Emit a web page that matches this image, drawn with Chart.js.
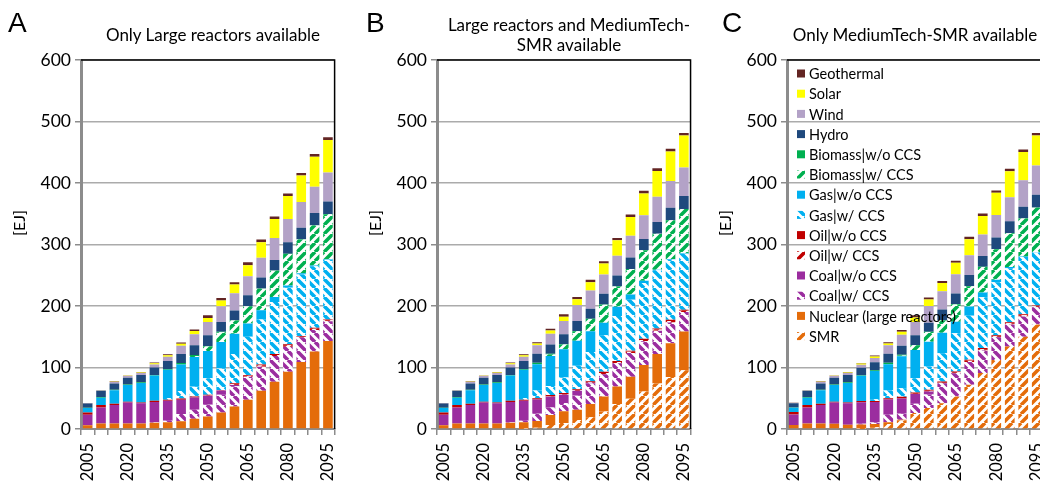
<!DOCTYPE html>
<html>
<head>
<meta charset="utf-8">
<script src="https://cdn.jsdelivr.net/npm/chart.js@4.4.1/dist/chart.umd.min.js"></script>
<style>
  html, body { margin: 0; padding: 0; background: #fff; }
  body { width: 1040px; height: 482px; position: relative; overflow: hidden; font-family: Lato, sans-serif; color: #000; }
  canvas { position: absolute; top: 0; }
  .letter { position: absolute; top: 9px; font: 28px/28px 'Liberation Sans', Arial, sans-serif; }
  .title { position: absolute; width: 320px; font-size: 17px; line-height: 20px; text-align: center; white-space: nowrap; }
  .unit { position: absolute; width: 50px; height: 20px; font-size: 16px; line-height: 20px; text-align: center; transform: rotate(-90deg); }
</style>
</head>
<body>
<canvas id="panelA" width="356" height="482" style="left:0px"></canvas>
<canvas id="panelB" width="356" height="482" style="left:356px"></canvas>
<canvas id="panelC" width="360" height="482" style="left:706px"></canvas>

<div class="letter" style="left:8px">A</div>
<div class="letter" style="left:366px">B</div>
<div class="letter" style="left:722px">C</div>

<div class="title" style="left:53px; top:25px">Only Large reactors available</div>
<div class="title" style="left:409px; top:15px">Large reactors and MediumTech-<br>SMR available</div>
<div class="title" style="left:755px; top:25px">Only MediumTech-SMR available</div>

<div class="unit" style="left:-6px; top:213px">[EJ]</div>
<div class="unit" style="left:350px; top:213px">[EJ]</div>
<div class="unit" style="left:700px; top:213px">[EJ]</div>

<script>
const years = ['2005', '2010', '2015', '2020', '2025', '2030', '2035', '2040', '2045', '2050',
  '2055', '2060', '2065', '2070', '2075', '2080', '2085', '2090', '2095'];
const tickEvery = 3;
const yTicks = [0, 100, 200, 300, 400, 500, 600];

// stacking order, bottom to top
const seriesNames = ['SMR', 'Nuclear (large reactors)', 'Coal|w/ CCS', 'Coal|w/o CCS', 'Oil|w/ CCS', 'Oil|w/o CCS',
  'Gas|w/ CCS', 'Gas|w/o CCS', 'Biomass|w/ CCS', 'Biomass|w/o CCS', 'Hydro', 'Wind', 'Solar', 'Geothermal'];

// A: only large reactors
const A_smr = [0, 0, 0, 0, 0, 0, 0, 0, 0, 0, 0, 0, 0, 0, 0, 0, 0, 0, 0];
const A_nuclear = [6, 9, 9, 9, 9, 10, 11, 12.5, 16.7, 20.5, 27, 36.7, 47.4, 62, 77, 93, 109, 126, 143];
const A_coalCcs = [0, 0, 0, 0, 0, 1, 2.5, 12, 14.5, 18.9, 28.5, 33, 37.6, 39.3, 41.6, 40.7, 39.6, 35, 32.4];
const A_coal = [17, 26, 30, 34, 33, 33, 32.5, 23, 20, 14.6, 7, 2, 0, 0, 0, 0, 0, 0, 0];
const A_oilCcs = [0, 0, 0, 0, 0, 0, 0, 0, 0, 0.5, 0.5, 1, 1.5, 2, 1.8, 2.3, 1.5, 2.2, 1.5];
const A_oil = [4, 4, 2, 1.5, 1, 2, 1.5, 2, 1.5, 1, 0.5, 1.7, 1.5, 1.7, 1.4, 2, 1, 1.6, 1.2];
const A_gasCcs = [0, 0, 0, 0, 0, 0, 3, 12.4, 16, 27, 35, 47.4, 62, 73, 84.7, 91.6, 100, 100, 97];
const A_gas = [7, 12, 22, 27, 32, 41, 46, 43, 48.5, 44.5, 43, 33, 21.4, 15, 8, 3.8, 2, 1, 1];
const A_bioCcs = [0, 0, 0, 0, 0, 0, 0, 0, 1.5, 7, 16, 21.5, 28, 35, 43, 51.2, 55, 65, 73];
const A_bio = [0.5, 1, 1, 1, 1, 1, 1, 2.5, 1.5, 1, 0.5, 0.5, 0.5, 0.3, 0.3, 0.3, 0.3, 0.3, 0.3];
const A_hydro = [7, 10, 10, 11, 12, 12, 13, 14.6, 16, 17.5, 16, 16, 17.5, 18, 17.2, 18.9, 19, 20, 20.5];
const A_wind = [0.3, 1, 2.5, 2.5, 3, 5, 7, 13.5, 18, 21.5, 25.5, 28, 31, 32, 35.6, 37.5, 41.6, 43, 47];
const A_solar = [0, 0.3, 0.5, 0.5, 1, 2, 2.5, 3, 5, 6.6, 9.5, 14, 18, 25.5, 30.7, 37.4, 43, 48.6, 53];
const A_geo = [0.3, 0.3, 0.5, 0.5, 0.5, 1, 1.5, 2.2, 2.7, 4.4, 4, 4, 4.6, 4.5, 4.3, 4.3, 4.3, 4.3, 4.5];

// B: large reactors and MediumTech-SMR
const B_smr = [0, 0, 0, 0, 0, 0, 0.5, 2, 6.5, 9.7, 14.6, 19, 28.6, 40.5, 49, 61, 73.8, 84.7, 95.6];
const B_nuclear = [6, 9, 9, 9, 9, 10, 10.5, 11, 16.2, 19, 16.8, 21.6, 24.3, 28.6, 36, 43, 48, 54.6, 62.8];
const B_coalCcs = [0, 0, 0, 0, 0, 1, 2.5, 12, 12.4, 13.5, 22.7, 33.5, 36.2, 37.8, 38.5, 38.8, 38, 33.9, 31.7];
const B_coal = [17, 26, 30, 34, 33, 33, 32.5, 23, 17.3, 13.5, 8, 1, 0, 0, 0, 0, 0, 0, 0];
const B_oilCcs = [0, 0, 0, 0, 0, 0, 0, 0, 0.5, 1, 1.2, 1.2, 2, 2, 2, 2, 2, 2.4, 2];
const B_oil = [4, 4, 2, 1.5, 1, 2, 1.5, 2, 2.2, 1.7, 1.5, 1.5, 1.8, 1.8, 1.8, 1.8, 1.8, 2, 1.8];
const B_gasCcs = [0, 0, 0, 0, 0, 0, 3, 12.4, 15, 25.4, 38, 47.5, 59.5, 73, 83, 90.7, 94.5, 98, 91];
const B_gas = [7, 12, 22, 27, 32, 41, 46, 43, 48.6, 46, 40.5, 33.5, 20.5, 15, 8.2, 3.8, 1, 1, 1];
const B_bioCcs = [0, 0, 0, 0, 0, 0, 0, 0, 2.5, 7.5, 15.7, 20, 29.2, 33.2, 41.5, 49.7, 58.2, 62.7, 71.7];
const B_bio = [0.5, 1, 1, 1, 1, 1, 1, 2.5, 1.3, 0.6, 0.5, 0.5, 0.5, 0.3, 0.3, 0.3, 0.3, 0.3, 0.3];
const B_hydro = [7, 10, 10, 11, 12, 12, 13, 14.6, 15, 16.2, 16.2, 16.2, 17.3, 17.3, 18.5, 18, 19, 20, 20.8];
const B_wind = [0.3, 1, 2.5, 2.5, 3, 5, 7, 13.5, 17.3, 21.6, 25.4, 29.7, 31.4, 32.4, 35.3, 38.3, 41, 43.7, 46.4];
const B_solar = [0, 0.3, 0.5, 0.5, 1, 2, 2.5, 3, 5.4, 7, 9.7, 13.5, 17.8, 25, 30.6, 35.5, 42, 48, 52];
const B_geo = [0.3, 0.3, 0.5, 0.5, 0.5, 1, 1.5, 2.2, 2.7, 3.8, 3.8, 3.8, 3.8, 3.8, 4, 4.4, 4.4, 4.4, 4.4];

// C: only MediumTech-SMR
const C_smr = [0, 0, 0, 0, 0, 0.5, 3, 8, 14, 26, 34, 42, 53, 72, 91, 112, 134, 150, 170];
const C_nuclear = [6.5, 9, 9, 8.5, 7, 7, 5, 3, 1, 0, 0, 0, 0, 0, 0, 0, 0, 0, 0];
const C_coalCcs = [0, 0, 0, 0, 0, 1, 2.5, 12, 10, 15, 22, 32.4, 37.8, 36.8, 36.8, 37, 36, 33, 28];
const C_coal = [17, 26, 30, 34.5, 35, 35, 33.5, 25, 24.7, 15.8, 5, 0, 0, 0, 0, 0, 0, 0, 0];
const C_oilCcs = [0, 0, 0, 0, 0, 0, 0, 0, 0, 0.7, 1, 1, 1.5, 2, 2, 2, 2, 2, 1.5];
const C_oil = [4, 4, 2, 1.5, 1, 2, 1.5, 2, 2.7, 2, 1.7, 1.7, 1.2, 1.8, 1.8, 1.5, 1.5, 1.5, 1.5];
const C_gasCcs = [0, 0, 0, 0, 0, 0, 3, 12.4, 13.7, 23, 37.8, 46, 62, 71.4, 82.7, 86, 88, 93, 86];
const C_gas = [7, 12, 22, 27, 32, 41, 46, 43, 52, 46, 40.5, 33.5, 19, 15, 7.6, 4, 2, 1, 1];
const C_bioCcs = [0, 0, 0, 0, 0, 0, 0, 0, 1.5, 7.5, 15.7, 20, 28.1, 33.2, 41.7, 49.7, 54.7, 61.7, 71.7];
const C_bio = [0.5, 1, 1, 1, 1, 1, 1, 2.5, 1.2, 0.5, 0.5, 0.5, 0.5, 0.3, 0.3, 0.3, 0.3, 0.3, 0.3];
const C_hydro = [7, 10, 10, 11, 12, 12, 13, 14.6, 14.6, 16, 14.6, 17.3, 17.3, 17.8, 17.3, 19, 19.5, 19, 21];
const C_wind = [0.3, 1, 2.5, 2.5, 3, 5, 7, 13.5, 17.8, 21.6, 27, 29.7, 31.4, 32.4, 35, 36.5, 39, 43, 47.6];
const C_solar = [0, 0.3, 0.5, 0.5, 1, 2, 2.5, 3, 4.9, 7, 10.8, 13.5, 18.4, 26, 30.3, 36, 42, 46, 48.6];
const C_geo = [0.3, 0.3, 0.5, 0.5, 0.5, 1, 1.5, 2.2, 2.7, 3.8, 3.2, 3.2, 3.2, 3.8, 3.8, 4, 4, 4, 4.3];

// striped fill for the "w/ CCS" and SMR parts
function hatch(color, dir) {
  const s = 9;
  const c = document.createElement('canvas');
  c.width = s; c.height = s;
  const g = c.getContext('2d');
  g.fillStyle = '#fff';
  g.fillRect(0, 0, s, s);
  g.strokeStyle = color;
  g.lineWidth = 3.6;
  g.beginPath();
  for (const k of [-s, 0, s]) {
    if (dir === '/') { g.moveTo(k, s); g.lineTo(k + s, 0); }
    else { g.moveTo(k, 0); g.lineTo(k + s, s); }
  }
  g.stroke();
  return g.createPattern(c, 'repeat');
}

const orange = '#e46c0a', purple = '#9b2d9f', red = '#c00000', blue = '#00b0f0', green = '#00b050';
const fills = [
  hatch(orange, '/'), orange,
  hatch(purple, '\\'), purple,
  hatch(red, '/'), red,
  hatch(blue, '\\'), blue,
  hatch(green, '/'), green,
  '#1f497d', '#b3a2c7', '#ffff00', '#632523'
];

// black top and right edges of the plot
const frame = {
  id: 'frame',
  afterDatasetsDraw(chart) {
    const { ctx, chartArea: a } = chart;
    ctx.save();
    ctx.strokeStyle = '#000';
    ctx.lineWidth = 1.5;
    ctx.beginPath();
    ctx.moveTo(a.left, a.top);
    ctx.lineTo(a.right, a.top);
    ctx.lineTo(a.right, a.bottom);
    ctx.stroke();
    ctx.restore();
  }
};

// legend drawn inside the plot, over the bars
const areaLegend = {
  id: 'areaLegend',
  afterDatasetsDraw(chart, args, opts) {
    if (!opts.display) return;
    const { ctx, chartArea: a } = chart;
    ctx.save();
    ctx.font = '14.5px Lato';
    ctx.textBaseline = 'middle';
    chart.data.datasets.slice().reverse().forEach((d, i) => {
      const y = a.top + 13.5 + i * 20.2;
      ctx.fillStyle = d.backgroundColor;
      ctx.fillRect(a.left + 10, y - 4, 8, 8);
      ctx.fillStyle = '#000';
      ctx.fillText(d.label, a.left + 22, y + 1);
    });
    ctx.restore();
  }
};

function panelOptions(rightPad, showLegend) {
  return {
    responsive: false,
    animation: false,
    layout: { padding: { top: 60, right: rightPad, left: 0, bottom: 0 } },
    plugins: {
      legend: { display: false },
      tooltip: { enabled: false },
      areaLegend: { display: showLegend }
    },
    scales: {
      x: {
        stacked: true,
        border: { color: '#8c8c8c', width: 2 },
        grid: { drawOnChartArea: false, tickLength: 6, color: '#8c8c8c', lineWidth: 1.5 },
        ticks: {
          autoSkip: false, maxRotation: 90, minRotation: 90, padding: 8, color: '#000',
          font: { family: 'Lato', size: 16.5 },
          callback(v, i) { return i % tickEvery === 0 ? this.getLabelForValue(v) : ''; }
        },
        afterFit(s) { s.height = 53; }
      },
      y: {
        stacked: true,
        min: yTicks[0],
        max: yTicks[yTicks.length - 1],
        border: { color: '#8c8c8c', width: 3 },
        grid: { color: '#ababab', lineWidth: 1.5, tickLength: 6, tickColor: '#8c8c8c' },
        ticks: { stepSize: 100, padding: 4, color: '#000', font: { family: 'Lato', size: 17.5 } },
        afterFit(s) { s.width = 81; }
      }
    }
  };
}

function buildPanel(id, series, rightPad, showLegend) {
  return new Chart(document.getElementById(id), {
    type: 'bar',
    data: {
      labels: years,
      datasets: series.map((d, i) => ({
        label: seriesNames[i],
        data: d,
        backgroundColor: fills[i],
        borderWidth: 0,
        barPercentage: 0.72,
        categoryPercentage: 1
      }))
    },
    options: panelOptions(rightPad, showLegend),
    plugins: [frame, areaLegend]
  });
}

buildPanel('panelA', [A_smr, A_nuclear, A_coalCcs, A_coal, A_oilCcs, A_oil, A_gasCcs, A_gas,
  A_bioCcs, A_bio, A_hydro, A_wind, A_solar, A_geo], 10, false);
buildPanel('panelB', [B_smr, B_nuclear, B_coalCcs, B_coal, B_oilCcs, B_oil, B_gasCcs, B_gas,
  B_bioCcs, B_bio, B_hydro, B_wind, B_solar, B_geo], 12, false);
buildPanel('panelC', [C_smr, C_nuclear, C_coalCcs, C_coal, C_oilCcs, C_oil, C_gasCcs, C_gas,
  C_bioCcs, C_bio, C_hydro, C_wind, C_solar, C_geo], 22.5, true);
</script>
</body>
</html>
